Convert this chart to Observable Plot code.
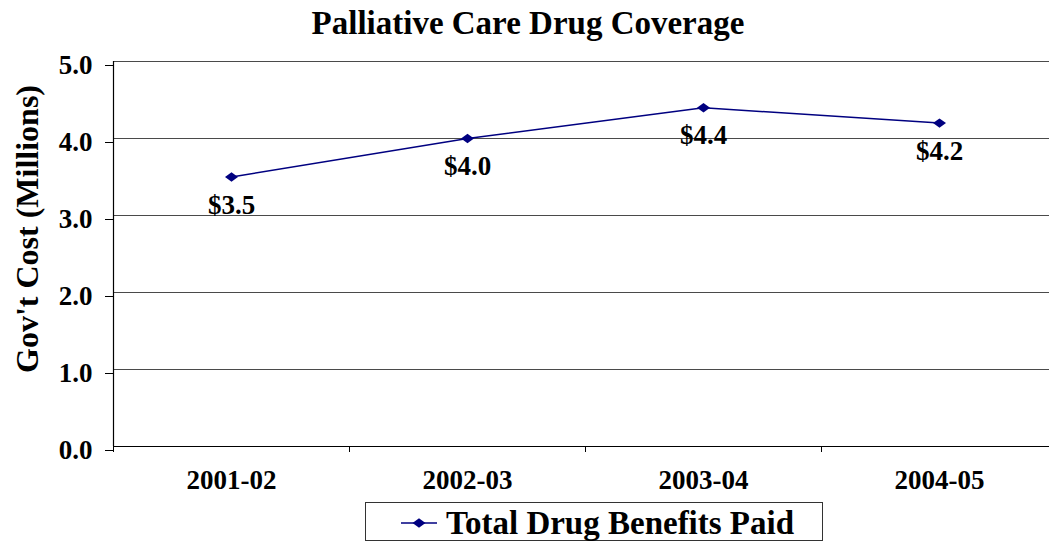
<!DOCTYPE html>
<html>
<head>
<meta charset="utf-8">
<script src="https://cdn.jsdelivr.net/npm/d3@7"></script>
<script src="https://cdn.jsdelivr.net/npm/@observablehq/plot@0.6"></script>
<style>
  body { margin: 0; background: #fff; font-family: "Liberation Serif", "Times New Roman", serif; }
  #chart { width: 1049px; position: relative; }
  .title { height: 46px; line-height: 46px; text-align: center; padding-left: 7px; font-size: 33px; font-weight: bold; color: #000; }
  .legend-wrap { height: 50px; position: relative; }
  .legend { position: absolute; left: 365px; top: 8px; width: 456px; height: 37px; border: 1px solid #333; }
  .legend svg { position: absolute; left: 34px; top: 10px; }
  .legend span { position: absolute; left: 80px; top: 0; line-height: 40px; font-size: 33px; font-weight: bold; color: #000; white-space: nowrap; }
</style>
</head>
<body>
<div id="chart"></div>
<script>
// Palliative care drug coverage: total drug benefits paid per fiscal year ($ millions)
const years = ["2001-02", "2002-03", "2003-04", "2004-05"];
const benefits = [3.5, 4.0, 4.4, 4.2];
const yTicks = [0, 1, 2, 3, 4, 5];
const chartTitle = "Palliative Care Drug Coverage";
const yLabel = "Gov't Cost (Millions)";
const seriesName = "Total Drug Benefits Paid";

const lineColor = "#000080";

// Each fiscal year occupies one unit slot; the point sits in the middle of its slot.
const rows = years.map((year, i) => ({year, slot: i + 0.5, value: benefits[i]}));
const slotEdges = years.map((_, i) => i);
const slotCenters = years.map((_, i) => i + 0.5);

// Wide, flat diamond marker
const flatDiamond = {
  draw(context, size) {
    const r = Math.sqrt(size / Math.PI);
    context.moveTo(-r, 0);
    context.lineTo(0, -r * 0.72);
    context.lineTo(r, 0);
    context.lineTo(0, r * 0.72);
    context.closePath();
  }
};

const chart = document.getElementById("chart");

const titleDiv = document.createElement("div");
titleDiv.className = "title";
titleDiv.textContent = chartTitle;
chart.appendChild(titleDiv);

const plot = Plot.plot({
  width: 1049,
  height: 448,
  marginTop: 15,
  marginBottom: 48,
  marginLeft: 113,
  marginRight: 0,
  style: {
    fontFamily: "'Liberation Serif', 'Times New Roman', serif",
    fontSize: "27px",
    fontWeight: "bold",
    color: "#000",
    background: "#fff",
    overflow: "visible"
  },
  x: {domain: [0, years.length], range: [113, 1057]},
  y: {domain: [0, 5]},
  marks: [
    // horizontal gridlines
    Plot.ruleY(yTicks.filter(d => d > 0), {stroke: "#4a4a4a", strokeWidth: 1.2}),
    // axis lines
    Plot.ruleY([0], {stroke: "#000", strokeWidth: 1.2}),
    Plot.ruleX([0], {y1: 0, y2: 5, stroke: "#000", strokeWidth: 1.2}),
    // y axis ticks and labels
    Plot.axisY({ticks: yTicks, tickFormat: d => d.toFixed(1), tickSize: 8, tickPadding: 13, dy: 4, label: null}),
    // x tick marks at slot edges
    Plot.axisX({ticks: slotEdges, tickFormat: () => "", tickSize: 6, label: null}),
    // x category labels at slot centers
    Plot.axisX({ticks: slotCenters, tickFormat: d => years[Math.floor(d)], tickSize: 0, tickPadding: 23, label: null}),
    // y axis title
    Plot.text([yLabel], {frameAnchor: "left", textAnchor: "middle", rotate: -90, dx: -86, dy: -25, fontSize: 32, fontWeight: "bold"}),
    // series
    Plot.line(rows, {x: "slot", y: "value", stroke: lineColor, strokeWidth: 1.5}),
    Plot.dot(rows, {x: "slot", y: "value", symbol: flatDiamond, r: 6.5, fill: lineColor, stroke: "none"}),
    Plot.text(rows, {x: "slot", y: "value", text: d => "$" + d.value.toFixed(1), dy: 28, fontSize: 27, fontWeight: "bold"})
  ]
});
chart.appendChild(plot);

// Legend box below the chart
const legendWrap = document.createElement("div");
legendWrap.className = "legend-wrap";
const legend = document.createElement("div");
legend.className = "legend";
legendWrap.appendChild(legend);

const sw = d3.create("svg").attr("width", 38).attr("height", 20);
sw.append("line").attr("x1", 1).attr("x2", 37).attr("y1", 10).attr("y2", 10)
  .attr("stroke", lineColor).attr("stroke-width", 1.5);
sw.append("path").attr("transform", "translate(19,10)")
  .attr("d", d3.symbol(flatDiamond, 6.5 * 6.5 * Math.PI)())
  .attr("fill", lineColor);
legend.appendChild(sw.node());

const legendText = document.createElement("span");
legendText.textContent = seriesName;
legend.appendChild(legendText);
chart.appendChild(legendWrap);
</script>
</body>
</html>
